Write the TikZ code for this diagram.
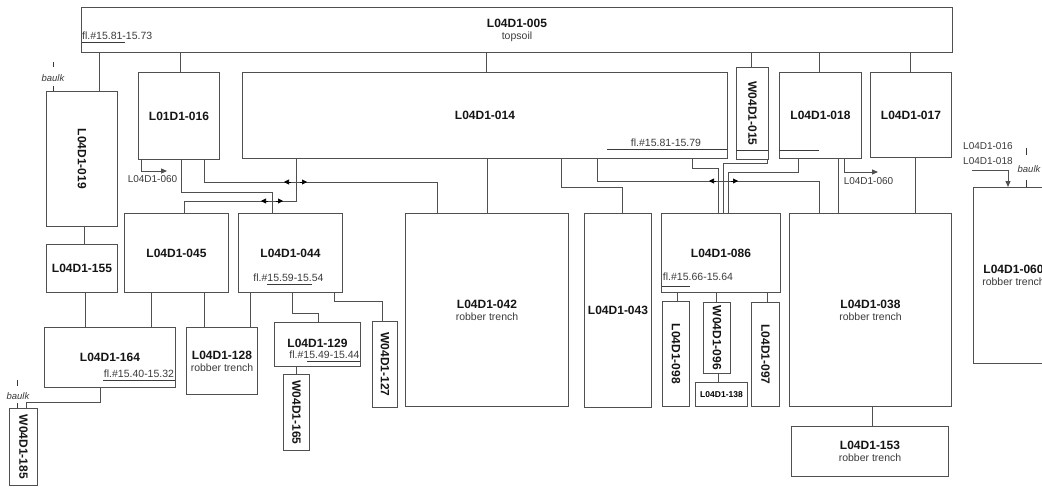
\documentclass[tikz,border=0pt]{standalone}
\usepackage{fontspec}
\setmainfont{Liberation Sans}
\usetikzlibrary{arrows.meta}
\definecolor{lc}{HTML}{505050}
\definecolor{tc}{HTML}{151515}
\definecolor{tcs}{HTML}{3A3A3A}
\newcommand\hmid{\fontsize{12}{14}\selectfont\bfseries\color{tc}}
\newcommand\hmsub{\fontsize{10.5}{13.5}\selectfont\mdseries\color{tcs}}
\tikzset{
  box/.style={draw=lc, line width=1pt, fill=white, anchor=north west, inner sep=0pt, align=center},
  link/.style={draw=lc, line width=1pt},
  arr/.style={draw=lc, line width=1pt, -{Triangle[length=6pt,width=5pt]}},
  jm/.style={draw=black, line width=0.6pt, -{Triangle[length=5pt,width=5pt]}},
  rid/.style={inner sep=0pt, rotate=-90, font=\hmid},
  flt/.style={inner sep=0pt, font=\hmsub},
  sm/.style={inner sep=0pt, font=\fontsize{10}{12}\selectfont\color{tcs}},
  bk/.style={inner sep=0pt, font=\fontsize{9.5}{11}\selectfont\itshape\color{tcs}},
  ul/.style={draw=tcs, line width=0.8pt},
  tick/.style={draw=tcs, line width=0.6pt}
}
\begin{document}
\begin{tikzpicture}[x=1pt,y=-1pt]
\useasboundingbox (0,0) rectangle (1042,487);
\fill[white] (0,0) rectangle (1042,487);
\clip (0,0) rectangle (1042,487);

% ---------- boxes ----------
\node[box, minimum width=871, minimum height=45] (n005) at (81,7) {\hmid L04D1-005\\\hmsub topsoil};
\node[box, minimum width=71, minimum height=135] (n019) at (46,91) {};
\node[box, minimum width=81, minimum height=87] (n016) at (138,72) {\hmid L01D1-016};
\node[box, minimum width=485, minimum height=86] (n014) at (242,72) {\hmid L04D1-014};
\node[box, minimum width=32, minimum height=92] (n015) at (736,67) {};
\node[box, minimum width=82, minimum height=86] (n018) at (779,72) {\hmid L04D1-018};
\node[box, minimum width=81, minimum height=85] (n017) at (870,72) {\hmid L04D1-017};
\node[box, minimum width=80, minimum height=176] (n060) at (973,187) {\hmid L04D1-060\\\hmsub robber trench};
\node[box, minimum width=71, minimum height=48] (n155) at (46,244) {\hmid L04D1-155};
\node[box, minimum width=104, minimum height=79] (n045) at (124,213) {\hmid L04D1-045};
\node[box, minimum width=104, minimum height=79] (n044) at (238,213) {\hmid L04D1-044};
\node[box, minimum width=131, minimum height=60] (n164) at (44,327) {\hmid L04D1-164};
\node[box, minimum width=71, minimum height=67] (n128) at (186,327) {\hmid L04D1-128\\\hmsub robber trench};
\node[box, minimum width=86, minimum height=44] (n129) at (274,322) {\raisebox{3pt}{\hmid L04D1-129}};
\node[box, minimum width=25, minimum height=86] (n127) at (372,321) {};
\node[box, minimum width=26, minimum height=76] (n165) at (283,374) {};
\node[box, minimum width=28, minimum height=77] (n185) at (9,408) {};
\node[box, minimum width=163, minimum height=193] (n042) at (405,213) {\hmid L04D1-042\\\hmsub robber trench};
\node[box, minimum width=67, minimum height=194] (n043) at (584,213) {\hmid L04D1-043};
\node[box, minimum width=119, minimum height=79] (n086) at (661,213) {\hmid L04D1-086};
\node[box, minimum width=27, minimum height=105] (n098) at (662,301) {};
\node[box, minimum width=27, minimum height=71] (n096) at (703,302) {};
\node[box, minimum width=52, minimum height=24] (n138) at (695,382) {\fontsize{8.5}{10}\selectfont\bfseries L04D1-138};
\node[box, minimum width=28, minimum height=104] (n097) at (751,302) {};
\node[box, minimum width=162, minimum height=193] (n038) at (789,213) {\hmid L04D1-038\\\hmsub robber trench};
\node[box, minimum width=157, minimum height=50] (n153) at (791,426) {\hmid L04D1-153\\\hmsub robber trench};

% ---------- rotated labels ----------
\node[rid] at (n019.center) {L04D1-019};
\node[rid] at (n015.center) {W04D1-015};
\node[rid] at (n127.center) {W04D1-127};
\node[rid] at (n165.center) {W04D1-165};
\node[rid] at (n185.center) {W04D1-185};
\node[rid] at (n098.center) {L04D1-098};
\node[rid] at (n096.center) {W04D1-096};
\node[rid] at (n097.center) {L04D1-097};

% ---------- floor levels ----------
\node[flt, anchor=west] (f005) at (82,36) {fl.\#15.81-15.73};
\draw[ul] (82,42) -- (125,42);
\node[flt] (f014) at (666,143) {fl.\#15.81-15.79};
\draw[ul] (607,149) -- (727,149);
\draw[ul] (736,150) -- (768,150);
\draw[ul] (779,150) -- (819,150);
\node[flt] (f044) at (288.5,278) {fl.\#15.59-15.54};
\draw[ul] (267,284) -- (312,284);
\node[flt] (f129) at (324.5,355) {fl.\#15.49-15.44};
\draw[ul] (307,361) -- (360,361);
\node[flt] (f164) at (139,374) {fl.\#15.40-15.32};
\draw[ul] (103,380) -- (175,380);
\node[flt] (f086) at (698,277) {fl.\#15.66-15.64};
\draw[ul] (662,286) -- (690,286);

% ---------- connectors ----------
\draw[link] (n005.south -| 99,0) -- (n019.north -| 99,0);
\draw[link] (n005.south -| 180,0) -- (n016.north -| 180,0);
\draw[link] (n005.south -| 486,0) -- (n014.north -| 486,0);
\draw[link] (n005.south -| 751,0) -- (n015.north -| 751,0);
\draw[link] (n005.south -| 819,0) -- (n018.north -| 819,0);
\draw[link] (n005.south -| 910,0) -- (n017.north -| 910,0);
\draw[link] (n019.south -| 84,0) -- (n155.north -| 84,0);
\draw[link] (n155.south -| 85,0) -- (n164.north -| 85,0);
\draw[link] (n045.south -| 151,0) -- (n164.north -| 151,0);
\draw[link] (n045.south -| 204,0) -- (n128.north -| 204,0);
\draw[link] (n044.south -| 250,0) -- (n128.north -| 250,0);
\draw[link] (n044.south -| 292,0) -- (292,313) -| (n129.north -| 318,0);
\draw[link] (n044.south -| 334,0) -- (334,301) -| (n127.north -| 382,0);
\draw[link] (n129.south -| 296,0) -- (n165.north -| 296,0);
\draw[link] (n164.south -| 100,0) -- (100,402) -| (n185.north -| 26,0);
\draw[link] (n016.south -| 181,0) -- (181,192) -| (n044.north -| 272,0);
\draw[link] (n016.south -| 204,0) -- (204,182) -| (n042.north -| 437,0);
\draw[link] (n014.south -| 296,0) -- (296,201) -| (n045.north -| 184,0);
\draw[link] (n014.south -| 487,0) -- (n042.north -| 487,0);
\draw[link] (n014.south -| 561,0) -- (561,187) -| (n043.north -| 622,0);
\draw[link] (n014.south -| 597,0) -- (597,181) -| (n038.north -| 819,0);
\draw[link] (n014.south -| 692,0) -- (692,168) -| (n086.north -| 718,0);
\draw[link] (n015.south -| 767,0) -- (767,163) -| (n086.north -| 723,0);
\draw[link] (n018.south -| 798,0) -- (798,172) -| (n086.north -| 728,0);
\draw[link] (n018.south -| 838,0) -- (n038.north -| 838,0);
\draw[link] (n017.south -| 915,0) -- (n038.north -| 915,0);
\draw[link] (n086.south -| 677,0) -- (n098.north -| 677,0);
\draw[link] (n086.south -| 716,0) -- (n096.north -| 716,0);
\draw[link] (n096.south -| 718,0) -- (n138.north -| 718,0);
\draw[link] (n086.south -| 767,0) -- (n097.north -| 767,0);
\draw[link] (n038.south -| 872,0) -- (n153.north -| 872,0);

% ---------- crossing marks ----------
\draw[jm] (291,182) -- (284,182);
\draw[jm] (300,182) -- (307,182);
\draw[jm] (268,201) -- (261,201);
\draw[jm] (276,201) -- (283,201);
\draw[jm] (716,181) -- (709,181);
\draw[jm] (731,181) -- (738,181);

% ---------- references to L04D1-060 ----------
\coordinate (e1) at (167,171);
\coordinate (e2) at (878,172);
\coordinate (s3) at (972,170);
\draw[arr] (n016.south -| 141,0) |- (e1);
\node[sm] (a1) at (152.5,179) {L04D1-060};
\draw[arr] (n018.south -| 844,0) |- (e2);
\node[sm] (a2) at (868.5,181) {L04D1-060};
\node[sm, anchor=west] (a3) at (963,146) {L04D1-016};
\node[sm, anchor=west] (a4) at (963,161) {L04D1-018};
\draw[arr] (s3) -| (n060.north -| 1008,0);

% ---------- baulks ----------
\node[bk] (b1) at (53,78) {baulk};
\draw[tick] (53,62) -- (53,67);
\draw[tick] (53,86) -- (53,91);
\node[bk] (b2) at (18,396) {baulk};
\draw[tick] (17,380) -- (17,386);
\draw[tick] (17,403) -- (17,408);
\node[bk] (b3) at (1029,169) {baulk};
\draw[tick] (1026,148) -- (1026,155);
\draw[tick] (1026,180) -- (1026,187);
\end{tikzpicture}
\end{document}
